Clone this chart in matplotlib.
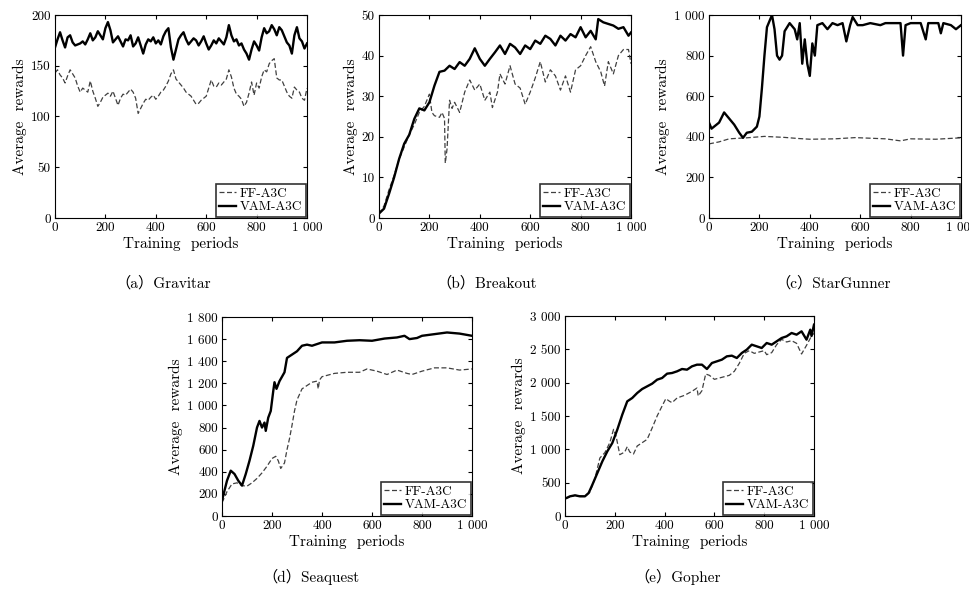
import numpy as np
import matplotlib.pyplot as plt

plt.rcParams['font.family'] = ['cmr10', 'DejaVu Serif']
plt.rcParams['axes.formatter.use_mathtext'] = True

# ---- (a) Gravitar, sampled every 10 periods
grav_x = np.arange(0, 1001, 10)
grav_vam = [168, 176, 183, 175, 168, 178, 180, 173, 170, 171, 172, 174, 171, 176, 182, 175, 178, 184, 180, 176,
            187, 193, 185, 173, 176, 179, 174, 169, 176, 175, 180, 169, 172, 178, 170, 162, 171, 176, 174, 178,
            172, 175, 171, 179, 184, 187, 168, 156, 166, 176, 180, 183, 176, 171, 174, 177, 175, 170, 174, 179,
            172, 166, 170, 175, 172, 177, 174, 171, 178, 190, 180, 174, 176, 170, 172, 166, 162, 156, 166, 174,
            170, 165, 178, 187, 182, 184, 190, 186, 180, 188, 185, 179, 173, 170, 162, 180, 188, 177, 174, 167,
            172]
grav_ff = [143, 146, 141, 138, 133, 140, 146, 142, 138, 130, 124, 128, 126, 124, 135, 125, 118, 110, 114, 119,
           121, 123, 120, 125, 118, 111, 118, 122, 121, 124, 127, 124, 118, 103, 108, 113, 117, 116, 119, 121,
           117, 120, 124, 126, 130, 135, 142, 146, 137, 134, 131, 128, 124, 122, 120, 116, 112, 113, 116, 118,
           120, 128, 136, 130, 129, 133, 131, 134, 137, 146, 139, 128, 122, 120, 117, 110, 114, 123, 134, 121,
           133, 128, 139, 146, 144, 152, 155, 157, 138, 136, 136, 130, 124, 120, 118, 129, 126, 124, 118, 116,
           128]

# ---- (b) Breakout
brk_vam_x = [0, 20, 40, 60, 80, 100, 120, 140, 160, 180, 200, 220, 240, 260, 280, 300, 320, 340, 360, 380,
             400, 420, 440, 460, 480, 500, 520, 540, 560, 580, 600, 620, 640, 660, 680, 700, 720, 740, 760, 780,
             800, 820, 840, 860, 870, 890, 910, 930, 950, 970, 990, 1000]
brk_vam = [1.1, 2.3, 6, 10, 14.6, 18.3, 20.5, 24.4, 27, 26.5, 28.5, 32.6, 36, 36.3, 37.5, 36.7, 38.4, 37.5, 39.2, 41.8,
           39.2, 37.5, 39.2, 40.8, 42.5, 40.4, 42.9, 42, 40.4, 42.5, 41.6, 43.7, 42.9, 44.9, 44.1, 42.5, 44.9, 43.7, 45.3, 44.5,
           47, 44.5, 46.1, 44, 49, 48.2, 47.8, 47.4, 46.6, 47, 44.9, 45.7]
brk_ff_x = [0, 20, 40, 60, 80, 100, 120, 140, 160, 180, 200, 210, 220, 240, 250, 260, 263, 270, 280, 290,
            300, 320, 340, 360, 380, 400, 420, 440, 450, 470, 480, 500, 520, 540, 560, 580, 600, 620, 640, 660,
            680, 700, 720, 740, 760, 780, 800, 820, 840, 860, 880, 895, 910, 930, 950, 970, 990, 1000]
brk_ff = [1, 3, 7, 10.5, 14.5, 17.5, 20.5, 23, 26, 27.5, 30.5, 26, 25.2, 24.8, 26, 24.5, 13.5, 17, 29, 27,
          28.5, 26, 31, 34, 31.5, 33, 29, 31, 27.2, 31, 35.5, 33, 37.5, 33, 32, 28, 31, 34.5, 38.5, 33.5,
          36.5, 35, 31.5, 35, 31, 36.5, 37.5, 40, 42.2, 38.5, 36, 32.5, 38.5, 35.5, 40, 41.5, 41.5, 38]

# ---- (c) StarGunner
sg_vam_x = [0, 10, 20, 40, 60, 80, 100, 120, 135, 150, 170, 190, 200, 210, 220, 230, 250, 260, 270, 280,
            290, 300, 320, 340, 350, 360, 370, 380, 390, 400, 410, 420, 430, 450, 470, 490, 510, 530, 545, 560,
            570, 590, 610, 640, 680, 700, 720, 760, 770, 780, 800, 840, 860, 870, 910, 920, 930, 960, 980, 1000]
sg_vam = [470, 440, 450, 470, 520, 490, 460, 420, 395, 420, 425, 450, 500, 640, 800, 940, 1000, 930, 800, 780,
          800, 920, 960, 930, 880, 960, 760, 880, 760, 700, 860, 800, 950, 960, 930, 960, 950, 960, 870, 950,
          990, 950, 950, 960, 950, 960, 960, 960, 800, 950, 960, 960, 880, 960, 960, 910, 960, 950, 930, 950]
sg_ff_x = [0, 40, 80, 150, 220, 300, 350, 400, 500, 580, 700, 760, 800, 900, 1000]
sg_ff = [365, 375, 390, 395, 402, 397, 392, 388, 390, 396, 390, 380, 390, 388, 395]

# ---- (d) Seaquest
sq_vam_x = [0, 10, 20, 35, 50, 65, 80, 95, 110, 125, 140, 150, 160, 170, 175, 185, 195, 205, 210, 218,
            230, 250, 260, 280, 300, 320, 340, 360, 400, 450, 500, 550, 600, 650, 700, 730, 750, 780, 800, 850,
            900, 950, 1000]
sq_vam = [140, 230, 320, 410, 380, 320, 275, 380, 500, 635, 800, 860, 800, 845, 770, 890, 950, 1130, 1210, 1150,
          1220, 1300, 1430, 1460, 1490, 1540, 1550, 1540, 1570, 1570, 1585, 1590, 1585, 1605, 1615, 1630, 1600, 1610, 1630, 1645,
          1660, 1650, 1630]
sq_ff_x = [0, 20, 40, 60, 80, 100, 120, 140, 160, 180, 200, 215, 225, 235, 250, 260, 270, 280, 290, 300,
           320, 340, 360, 380, 385, 390, 400, 450, 500, 550, 580, 620, 660, 700, 740, 760, 800, 850, 900, 950,
           1000]
sq_ff = [120, 220, 290, 300, 275, 270, 300, 340, 390, 450, 520, 540, 500, 430, 480, 600, 700, 820, 950, 1050,
         1150, 1180, 1210, 1220, 1150, 1230, 1260, 1290, 1300, 1300, 1330, 1310, 1280, 1320, 1290, 1280, 1310, 1340, 1340, 1320,
         1330]

# ---- (e) Gopher
gp_vam_x = [0, 20, 40, 60, 80, 95, 110, 130, 150, 170, 190, 210, 230, 250, 270, 290, 310, 330, 350, 370,
            390, 410, 430, 450, 470, 490, 510, 530, 550, 570, 590, 610, 630, 650, 670, 690, 710, 730, 750, 770,
            790, 810, 830, 850, 870, 890, 910, 930, 950, 970, 985, 990, 1000]
gp_vam = [260, 295, 310, 295, 295, 345, 470, 645, 820, 970, 1095, 1295, 1520, 1720, 1770, 1845, 1905, 1945, 1985, 2045,
          2070, 2135, 2145, 2170, 2205, 2195, 2245, 2270, 2270, 2205, 2295, 2320, 2345, 2395, 2405, 2370, 2445, 2495, 2570, 2545,
          2520, 2595, 2570, 2620, 2670, 2695, 2745, 2720, 2770, 2645, 2795, 2700, 2870]
gp_ff_x = [0, 40, 80, 100, 120, 140, 160, 180, 195, 205, 220, 240, 250, 260, 275, 290, 310, 330, 350, 370,
           390, 405, 420, 430, 450, 480, 510, 530, 535, 550, 565, 580, 600, 630, 660, 680, 700, 720, 740, 760,
           780, 800, 810, 830, 850, 870, 890, 910, 930, 950, 970, 990, 1000]
gp_ff = [260, 310, 295, 360, 560, 870, 950, 1100, 1300, 1200, 920, 960, 1040, 960, 930, 1050, 1100, 1150, 1320, 1500,
         1650, 1760, 1720, 1700, 1770, 1810, 1870, 1920, 1800, 1880, 2130, 2110, 2050, 2080, 2110, 2170, 2290, 2440, 2480, 2440,
         2460, 2480, 2420, 2450, 2570, 2650, 2610, 2630, 2590, 2430, 2560, 2700, 2740]

x_ticks = [0, 200, 400, 600, 800, 1000]
x_ticklabels = ['0', '200', '400', '600', '800', '1 000']

panels = [
    # rect, ff_x, ff_y, vam_x, vam_y, yticks, yticklabels, caption, caption xy
    ([55, 218, 252, 203], grav_x, grav_ff, grav_x, grav_vam, [0, 50, 100, 150, 200],
     ['0', '50', '100', '150', '200'], '（a）Gravitar', (163, 283)),
    ([379, 218, 252, 203], brk_ff_x, brk_ff, brk_vam_x, brk_vam, [0, 10, 20, 30, 40, 50],
     ['0', '10', '20', '30', '40', '50'], '（b）Breakout', (487, 283)),
    ([709, 218, 252, 203], sg_ff_x, sg_ff, sg_vam_x, sg_vam, [0, 200, 400, 600, 800, 1000],
     ['0', '200', '400', '600', '800', '1 000'], '（c）StarGunner', (833, 283)),
    ([222, 516, 250, 199], sq_ff_x, sq_ff, sq_vam_x, sq_vam, list(range(0, 1801, 200)),
     ['0', '200', '400', '600', '800', '1 000', '1 200', '1 400', '1 600', '1 800'], '（d）Seaquest', (311, 577)),
    ([565, 516, 249, 200], gp_ff_x, gp_ff, gp_vam_x, gp_vam, [0, 500, 1000, 1500, 2000, 2500, 3000],
     ['0', '500', '1 000', '1 500', '2 000', '2 500', '3 000'], '（e）Gopher', (678, 577)),
]

W, H = 970, 592
fig = plt.figure(figsize=(W / 100, H / 100), dpi=100)

for rect, fx, fy, vx, vy, yt, ytl, cap, cxy in panels:
    l, b, w, h = rect
    ax = fig.add_axes([l / W, (H - b) / H, w / W, h / H])
    ax.plot(fx, fy, color='0.25', lw=0.9, ls=(0, (4, 2)), label='FF-A3C')
    ax.plot(vx, vy, color='black', lw=1.7, label='VAM-A3C')
    ax.set_xlim(0, 1000)
    ax.set_ylim(yt[0], yt[-1])
    ax.set_xticks(x_ticks)
    ax.set_xticklabels(x_ticklabels)
    ax.set_yticks(yt)
    ax.set_yticklabels(ytl)
    ax.tick_params(direction='in', top=True, right=True, length=3, labelsize=9.5, pad=3)
    ax.set_xlabel('Training  periods', fontsize=11, labelpad=2)
    ax.set_ylabel('Average  rewards', fontsize=11, labelpad=3)
    leg = ax.legend(loc='lower right', fontsize=9.5, frameon=True, fancybox=False,
                    borderaxespad=0.1, handlelength=1.3, handletextpad=0.3,
                    borderpad=0.25, labelspacing=0.1)
    leg.get_frame().set_edgecolor('black')
    leg.get_frame().set_linewidth(1.2)
    fig.text(cxy[0] / W, 1 - cxy[1] / H, cap, ha='center', va='center', fontsize=11,
             family=['cmr10', 'Noto Sans CJK SC'])

fig.savefig('out.png', dpi=100)
